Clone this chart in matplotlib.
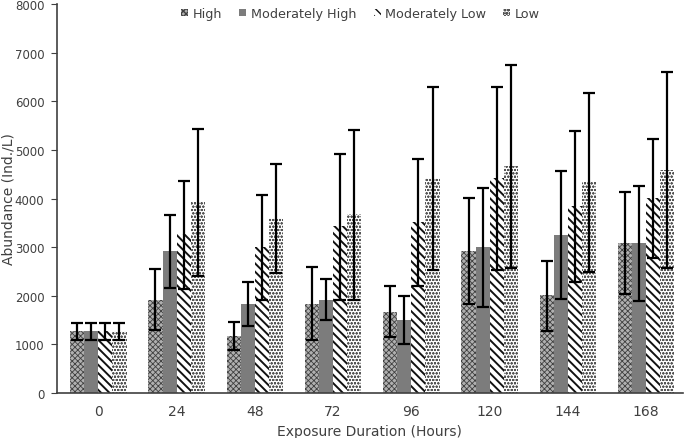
import numpy as np
import matplotlib
matplotlib.use('Agg')
import matplotlib.pyplot as plt

hours = ['0', '24', '48', '72', '96', '120', '144', '168']
series = ['High', 'Moderately High', 'Moderately Low', 'Low']

# mean abundance (Ind./L)
high = [1270, 1920, 1165, 1838, 1673, 2928, 2016, 3080]
mod_high = [1270, 2928, 1838, 1920, 1502, 2998, 3258, 3080]
mod_low = [1270, 3272, 3004, 3429, 3512, 4417, 3841, 4005]
low = [1270, 3923, 3594, 3676, 4417, 4677, 4348, 4595]

# error bar extents (upper / lower)
high_up = [1440, 2551, 1467, 2586, 2207, 4012, 2722, 4142]
high_lo = [1100, 1302, 891, 1084, 1146, 1825, 1282, 2031]
mod_high_up = [1440, 3669, 2284, 2339, 2003, 4224, 4568, 4265]
mod_high_lo = [1100, 2160, 1385, 1509, 1008, 1776, 1934, 1900]
mod_low_up = [1440, 4368, 4081, 4918, 4815, 6296, 5391, 5226]
mod_low_lo = [1100, 2140, 1920, 1920, 2207, 2537, 2277, 2771]
low_up = [1440, 5432, 4712, 5418, 6296, 6749, 6173, 6605]
low_lo = [1100, 2414, 2469, 1920, 2537, 2572, 2496, 2572]

means = [high, mod_high, mod_low, low]
ups = [high_up, mod_high_up, mod_low_up, low_up]
los = [high_lo, mod_high_lo, mod_low_lo, low_lo]

styles = [
    dict(facecolor='#b0b0b0', hatch='xxxxxx', hlw=0.6, hc='#404040'),
    dict(facecolor='#7c7c7c', hatch='', hlw=0.5, hc='#7c7c7c'),
    dict(facecolor='white', hatch='\\\\\\\\', hlw=1.4, hc='#111111'),
    dict(facecolor='white', hatch='ooooo', hlw=0.6, hc='#555555'),
]

plt.rcParams['font.family'] = 'DejaVu Sans'
txt = '#404040'

fig = plt.figure(figsize=(6.85, 4.39), dpi=100)
ax = fig.add_axes([0.083, 0.1025, 0.914, 0.886])

x = np.arange(len(hours))
w = 0.18
for i, name in enumerate(series):
    st = styles[i]
    pos = x + (i - 1.5) * w
    m = np.array(means[i])
    yerr = [m - np.array(los[i]), np.array(ups[i]) - m]
    with plt.rc_context({'hatch.linewidth': st['hlw']}):
        ax.bar(pos, m, w, facecolor=st['facecolor'], hatch=st['hatch'],
               edgecolor=st['hc'], linewidth=0, label=name)
    ax.errorbar(pos, m, yerr=yerr, fmt='none', ecolor='black',
                elinewidth=1.6, capsize=4, capthick=1.6)

ax.set_ylim(0, 8000)
ax.set_xlim(-0.53, 7.47)
ax.set_yticks(range(0, 8001, 1000))
ax.set_xticks(x)
ax.set_xticklabels(hours)
ax.tick_params(axis='x', length=0, pad=8, colors=txt, labelsize=10)
ax.tick_params(axis='y', length=4, pad=5, colors=txt, labelsize=8.5)
for s in ['top', 'right']:
    ax.spines[s].set_visible(False)
for s in ['left', 'bottom']:
    ax.spines[s].set_color('#404040')
    ax.spines[s].set_linewidth(1.2)

ax.set_ylabel('Abundance (Ind./L)', color=txt, fontsize=10)
ax.yaxis.set_label_coords(-0.066, 0.5)
ax.set_xlabel('Exposure Duration (Hours)', color=txt, fontsize=10, labelpad=4)

ax.legend(loc='upper center', bbox_to_anchor=(0.485, 1.022), ncol=4, frameon=False,
          fontsize=9.2, handlelength=0.55, handleheight=0.55, handletextpad=0.35,
          columnspacing=1.35, labelcolor=txt)

fig.savefig('out.png', dpi=100)
